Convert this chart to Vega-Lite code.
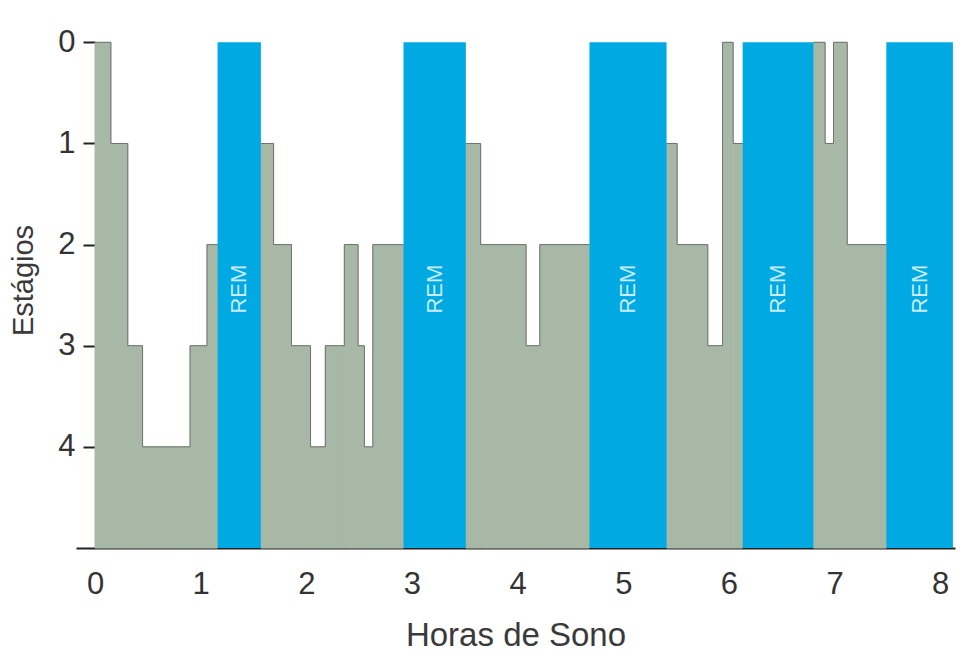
{
  "$schema": "https://vega.github.io/schema/vega-lite/v6.json",
  "autosize": {"type": "none"},
  "width": 879,
  "height": 536,
  "padding": {"left": 76, "top": 12, "right": 8, "bottom": 107},
  "background": "white",
  "config": {
    "view": {"stroke": null},
    "font": "Liberation Sans",
    "axis": {"grid": false, "labelFont": "Liberation Sans", "titleFont": "Liberation Sans", "labelColor": "#333333", "titleColor": "#3a3a3a", "titleFontWeight": "normal"}
  },
  "datasets": {
    "stages": [
      {"i": 1, "grp": 1, "start": 0.00, "end": 0.15, "stage": 0},
      {"i": 2, "grp": 1, "start": 0.15, "end": 0.31, "stage": 1},
      {"i": 3, "grp": 1, "start": 0.31, "end": 0.45, "stage": 3},
      {"i": 4, "grp": 1, "start": 0.45, "end": 0.90, "stage": 4},
      {"i": 5, "grp": 1, "start": 0.90, "end": 1.06, "stage": 3},
      {"i": 6, "grp": 1, "start": 1.06, "end": 1.16, "stage": 2},
      {"i": 7, "grp": 2, "start": 1.57, "end": 1.69, "stage": 1},
      {"i": 8, "grp": 2, "start": 1.69, "end": 1.86, "stage": 2},
      {"i": 9, "grp": 2, "start": 1.86, "end": 2.04, "stage": 3},
      {"i": 10, "grp": 2, "start": 2.04, "end": 2.18, "stage": 4},
      {"i": 11, "grp": 2, "start": 2.18, "end": 2.36, "stage": 3},
      {"i": 12, "grp": 2, "start": 2.36, "end": 2.49, "stage": 2},
      {"i": 13, "grp": 2, "start": 2.49, "end": 2.55, "stage": 3},
      {"i": 14, "grp": 2, "start": 2.55, "end": 2.63, "stage": 4},
      {"i": 15, "grp": 2, "start": 2.63, "end": 2.92, "stage": 2},
      {"i": 16, "grp": 3, "start": 3.51, "end": 3.65, "stage": 1},
      {"i": 17, "grp": 3, "start": 3.65, "end": 4.08, "stage": 2},
      {"i": 18, "grp": 3, "start": 4.08, "end": 4.21, "stage": 3},
      {"i": 19, "grp": 3, "start": 4.21, "end": 4.68, "stage": 2},
      {"i": 20, "grp": 4, "start": 5.41, "end": 5.51, "stage": 1},
      {"i": 21, "grp": 4, "start": 5.51, "end": 5.80, "stage": 2},
      {"i": 22, "grp": 4, "start": 5.80, "end": 5.94, "stage": 3},
      {"i": 23, "grp": 4, "start": 5.94, "end": 6.04, "stage": 0},
      {"i": 24, "grp": 4, "start": 6.04, "end": 6.13, "stage": 1},
      {"i": 25, "grp": 5, "start": 6.80, "end": 6.91, "stage": 0},
      {"i": 26, "grp": 5, "start": 6.91, "end": 6.99, "stage": 1},
      {"i": 27, "grp": 5, "start": 6.99, "end": 7.12, "stage": 0},
      {"i": 28, "grp": 5, "start": 7.12, "end": 7.49, "stage": 2}
    ],
    "rem": [
      {"start": 1.16, "end": 1.57, "label": "REM"},
      {"start": 2.92, "end": 3.51, "label": "REM"},
      {"start": 4.68, "end": 5.41, "label": "REM"},
      {"start": 6.13, "end": 6.80, "label": "REM"},
      {"start": 7.49, "end": 8.12, "label": "REM"}
    ]
  },
  "layer": [
    {
      "data": {"name": "stages"},
      "mark": {"type": "rect", "fill": "#a7b9a6", "stroke": "#a7b9a6", "strokeWidth": 1},
      "encoding": {
        "x": {"field": "start", "type": "quantitative",
          "scale": {"domain": [-0.18, 8.14], "nice": false, "zero": false},
          "axis": {"values": [0, 1, 2, 3, 4, 5, 6, 7, 8], "format": "d", "ticks": false, "domain": true, "domainColor": "#222222", "domainWidth": 2,
            "labelFontSize": 31, "labelPadding": 21, "title": "Horas de Sono", "titleFontSize": 33, "titlePadding": 20}},
        "x2": {"field": "end"},
        "y": {"field": "stage", "type": "quantitative",
          "scale": {"domain": [-0.3, 5], "reverse": true, "nice": false, "zero": false},
          "axis": {"values": [0, 1, 2, 3, 4], "format": "d", "offset": -19, "domain": false, "tickSize": 12, "tickWidth": 2, "tickColor": "#222222",
            "labelFontSize": 31, "labelPadding": 8, "title": "Estágios", "titleFontSize": 29, "titlePadding": 19}},
        "y2": {"datum": 5}
      }
    },
    {
      "data": {"name": "stages"},
      "transform": [{"fold": ["start", "end"], "as": ["edge", "pos"]}],
      "mark": {"type": "line", "stroke": "#6f746f", "strokeWidth": 1, "interpolate": "linear"},
      "encoding": {
        "x": {"field": "pos", "type": "quantitative"},
        "y": {"field": "stage", "type": "quantitative"},
        "detail": {"field": "grp"},
        "order": [{"field": "pos", "type": "quantitative"}, {"field": "i", "type": "quantitative"}]
      }
    },
    {
      "data": {"name": "rem"},
      "mark": {"type": "rect", "fill": "#00a9e2", "strokeWidth": 0},
      "encoding": {
        "x": {"field": "start", "type": "quantitative"},
        "x2": {"field": "end"},
        "y": {"datum": 0},
        "y2": {"datum": 5}
      }
    },
    {
      "data": {"name": "rem"},
      "transform": [{"calculate": "(datum.start + datum.end) / 2", "as": "mid"}],
      "mark": {"type": "text", "angle": 270, "fontSize": 22, "color": "#c9ecfa", "align": "center", "baseline": "middle", "font": "Liberation Sans"},
      "encoding": {
        "x": {"field": "mid", "type": "quantitative"},
        "y": {"datum": 2.44},
        "text": {"field": "label"}
      }
    },
    {
      "mark": {"type": "rule", "stroke": "#222222", "strokeWidth": 2},
      "encoding": {
        "x": {"datum": 0},
        "y": {"datum": -0.3},
        "y2": {"datum": 5.22}
      }
    }
  ]
}
